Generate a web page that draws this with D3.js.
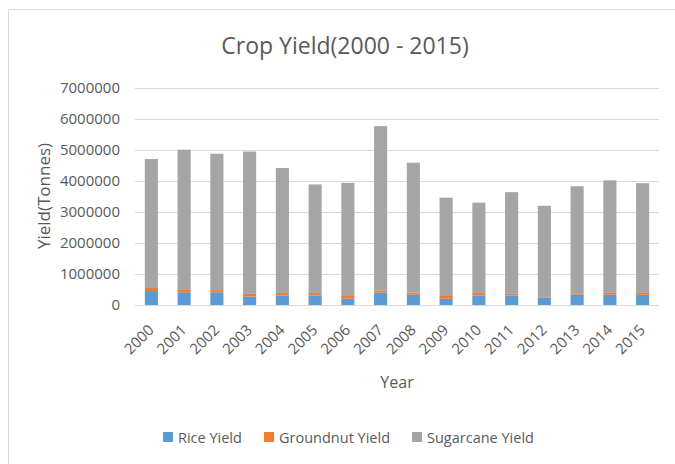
<!DOCTYPE html>
<html><head><meta charset="utf-8">
<script src="https://cdn.jsdelivr.net/npm/d3@7"></script>
<style>body{margin:0;background:#fff}svg{display:block}text{font-family:"Open Sans",sans-serif;fill:#595959}</style>
</head><body><svg id="c" width="675" height="464"></svg>
<script>
const years = ["2000","2001","2002","2003","2004","2005","2006","2007","2008","2009","2010","2011","2012","2013","2014","2015"];
const rice = [450000,410000,410000,270000,310000,310000,200000,400000,330000,200000,310000,310000,240000,330000,330000,330000];
const groundnut = [100000,100000,70000,90000,75000,75000,90000,60000,65000,90000,75000,50000,20000,50000,60000,60000];
const sugarcane = [4160000,4500000,4400000,4590000,4035000,3505000,3650000,5310000,4195000,3170000,2915000,3280000,2940000,3450000,3630000,3540000];
const yTicks = [0,1000000,2000000,3000000,4000000,5000000,6000000,7000000];
const seriesNames = ["Rice Yield","Groundnut Yield","Sugarcane Yield"];
const colors = ["#5B9BD5","#ED7D31","#A5A5A5"];

const svg = d3.select("#c");
svg.append("rect").attr("x",8.5).attr("y",9.5).attr("width",700).attr("height",500)
  .attr("fill","#fff").attr("stroke","#D9D9D9").attr("stroke-width",1);

const x = d3.scaleBand().domain(years).range([135,659]).paddingInner(0.6).paddingOuter(0.3);
const y = d3.scaleLinear().domain([0,7000000]).range([305,88]);

// gridlines
svg.append("g").selectAll("line").data(yTicks).join("line")
  .attr("x1",135).attr("x2",659).attr("y1",d=>Math.round(y(d))+0.5).attr("y2",d=>Math.round(y(d))+0.5)
  .attr("stroke","#D9D9D9").attr("stroke-width",1);

// y tick labels
svg.append("g").selectAll("text").data(yTicks).join("text")
  .attr("x",120).attr("y",d=>y(d)+5).attr("text-anchor","end").attr("font-size",15)
  .text(d=>d3.format("d")(d));

// stacked bars
const data = years.map((yr,i)=>({year:yr,rice:rice[i],groundnut:groundnut[i],sugarcane:sugarcane[i]}));
const stack = d3.stack().keys(["rice","groundnut","sugarcane"])(data);
svg.append("g").selectAll("g").data(stack).join("g").attr("fill",(d,i)=>colors[i])
  .selectAll("rect").data(d=>d).join("rect")
  .attr("x",d=>x(d.data.year)).attr("width",x.bandwidth())
  .attr("y",d=>y(d[1])).attr("height",d=>y(d[0])-y(d[1]));

// baseline
svg.append("line").attr("x1",135).attr("x2",659).attr("y1",305.5).attr("y2",305.5)
  .attr("stroke","#D9D9D9").attr("stroke-width",1);

// x tick labels
svg.append("g").selectAll("text").data(years).join("text")
  .attr("transform",d=>`translate(${x(d)+x.bandwidth()/2+3.5},${331}) rotate(-45)`)
  .attr("text-anchor","end").attr("font-size",15).text(d=>d);

// titles
svg.append("text").attr("x",345).attr("y",54).attr("text-anchor","middle").attr("font-size",23)
  .text("Crop Yield(2000 - 2015)");
svg.append("text").attr("x",397).attr("y",388).attr("text-anchor","middle").attr("font-size",16).text("Year");
svg.append("text").attr("transform","translate(50,196) rotate(-90)").attr("text-anchor","middle")
  .attr("font-size",17).text("Yield(Tonnes)");

// legend
const legX = [163,264,412];
const lg = svg.append("g").selectAll("g").data(seriesNames).join("g")
  .attr("transform",(d,i)=>`translate(${legX[i]},432)`);
lg.append("rect").attr("width",10).attr("height",10).attr("fill",(d,i)=>colors[i]);
lg.append("text").attr("x",15).attr("y",11).attr("font-size",14.5).text(d=>d);
</script></body></html>
